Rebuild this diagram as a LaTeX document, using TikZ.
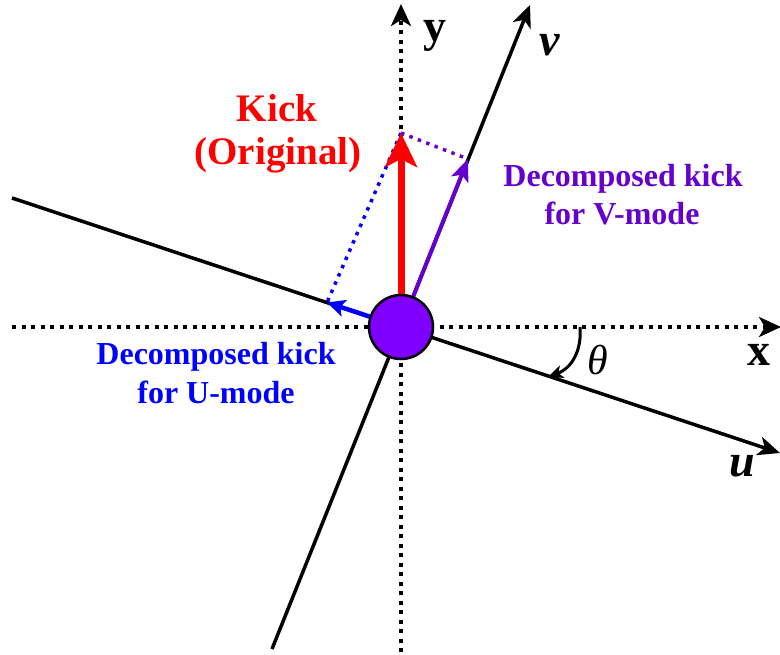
\documentclass[tikz,border=0pt]{standalone}
\usepackage{fontspec}
\setmainfont{Liberation Serif}
\usetikzlibrary{arrows.meta}
\definecolor{kickred}{HTML}{FF0000}
\definecolor{vpurple}{HTML}{6600CC}
\definecolor{ublue}{HTML}{0000FF}
\definecolor{ballfill}{HTML}{7F00FF}
\begin{document}
\begin{tikzpicture}[x=1pt,y=-1pt,
  dotaxis/.style={line width=4pt, dash pattern=on 4pt off 5.5pt,
    -{Stealth[length=22pt,width=20pt,inset=6pt]}},
  solidaxis/.style={line width=3.5pt,
    -{Stealth[length=22pt,width=19pt,inset=6pt]}},
  axlabel/.style={inner sep=0pt, font=\fontsize{46}{46}\selectfont\bfseries},
  kicktext/.style={inner sep=0pt, anchor=base, text=kickred,
    font=\fontsize{39}{39}\selectfont\bfseries},
  comptext/.style={inner sep=0pt, anchor=base,
    font=\fontsize{32}{32}\selectfont\bfseries},
  ball/.style={circle, draw=black, line width=2.5pt, fill=ballfill,
    minimum size=64pt, inner sep=0pt}
]
\useasboundingbox (0,0) rectangle (780,655);
% coordinates
\coordinate (xL) at (12,327);
\coordinate (xR) at (781,327);
\coordinate (yB) at (401,652);
\coordinate (yT) at (401,4);
\coordinate (uL) at (12,198);
\coordinate (uR) at (780,453);
\coordinate (vB) at (272,649);
\coordinate (vT) at (530,5);
\coordinate (K) at (401,133);
\coordinate (Vt) at (468,159);
\coordinate (Ut) at (327,302.5);
\coordinate (th1) at (580,327);
\coordinate (th2) at (548,377);
% axes
\draw[dotaxis] (xL) -- (xR);
\draw[dotaxis] (yB) -- (yT);
\draw[solidaxis] (uL) -- (uR);
\draw[solidaxis] (vB) -- (vT);
% projection lines
\draw[ublue, line width=3.5pt, dash pattern=on 3.5pt off 5.5pt] (K) -- (Ut);
\draw[vpurple, line width=3.5pt, dash pattern=on 3.5pt off 5.5pt] (K) -- (Vt);
% ball
\node[ball] (O) at (401,327) {};
% kick arrows
\draw[kickred, line width=7pt, -{Stealth[length=34pt,width=32pt,inset=8pt]}] (O) -- (K);
\draw[vpurple, line width=4pt, -{Stealth[length=22pt,width=18pt,inset=5pt]}] (O) -- (Vt);
\draw[ublue, line width=4.5pt, -{Stealth[length=18pt,width=17pt,inset=4pt]}] (O) -- (Ut);
% theta arc
\draw[line width=3pt, -{Stealth[length=15pt,width=13pt,inset=4pt]}]
  (th1) .. controls (582,350) and (572,368) .. (th2);
% labels
\node[axlabel] (ly) at (435,36) {y};
\node[axlabel] (lv) at (550,45) {\itshape v};
\node[axlabel] (lx) at (759,355) {x};
\node[axlabel] (lu) at (742,466) {\itshape u};
\node[inner sep=0pt, font=\fontsize{42}{42}\selectfont\itshape] (lt) at (598,360) {θ};
\node[kicktext] (k1) at (277,122) {Kick};
\node[kicktext] (k2) at (278,165) {(Original)};
\node[comptext, text=vpurple] (v1) at (623,187) {Decomposed kick};
\node[comptext, text=vpurple] (v2) at (622,225) {for V-mode};
\node[comptext, text=ublue] (u1) at (216,365) {Decomposed kick};
\node[comptext, text=ublue] (u2) at (216,403) {for U-mode};
\end{tikzpicture}
\end{document}
